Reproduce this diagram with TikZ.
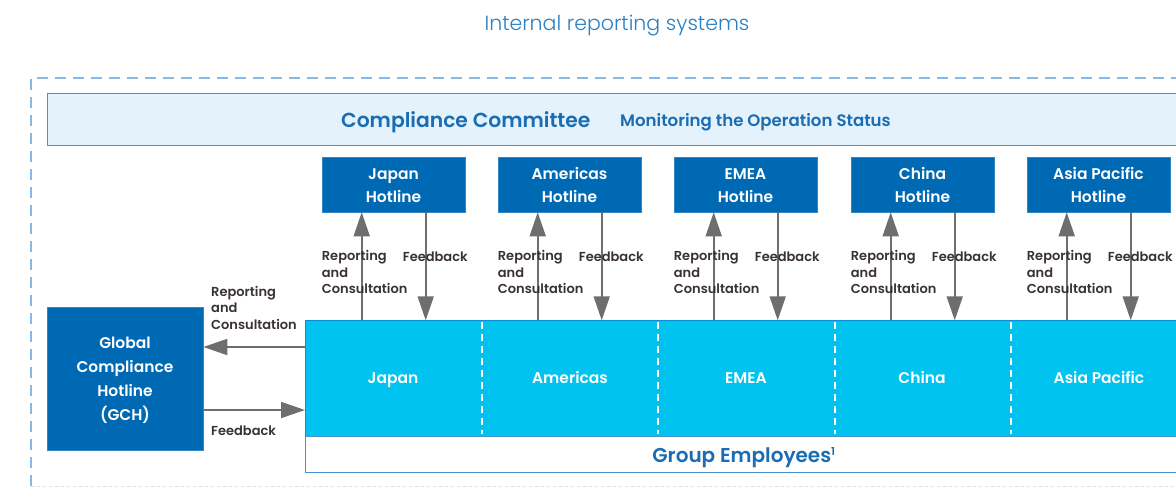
\documentclass[tikz,border=0pt]{standalone}
\usepackage{fontspec}
\setmainfont{Poppins}[BoldFont={Poppins SemiBold}]
\newfontfamily\lightfont{Poppins Light}
\usetikzlibrary{arrows.meta,calc}
\definecolor{titleblue}{HTML}{2A80C2}
\definecolor{ccfill}{HTML}{E4F2FB}
\definecolor{ccborder}{HTML}{4A92CE}
\definecolor{cctext}{HTML}{1A6DB3}
\definecolor{hotblue}{HTML}{0069B4}
\definecolor{regcyan}{HTML}{00C3EF}
\definecolor{regborder}{HTML}{0A8FD0}
\definecolor{lbltext}{HTML}{3A3232}
\definecolor{arrgray}{HTML}{6E6E6E}
\definecolor{dashblue}{HTML}{86B9E3}
\newcommand{\sline}[1]{\vrule height 15pt depth 2pt width 0pt#1}
\newcommand{\gline}[1]{\vrule height 15.5pt depth 3.7pt width 0pt#1}
\tikzset{
  hotbox/.style={fill=hotblue, draw=hotblue!80!white, line width=0.6pt, text=white, font=\bfseries\fontsize{15.5}{23}\selectfont, align=center, minimum width=143pt, minimum height=55pt, inner sep=0pt},
  regtext/.style={text=white, font=\bfseries\fontsize{15.5}{19}\selectfont, text height=12pt, text depth=1pt},
  lbl/.style={text=lbltext, font=\bfseries\fontsize{13}{16.5}\selectfont, align=left, inner sep=0pt, anchor=north west},
  arr/.style={draw=arrgray, line width=1.8pt, -{Triangle[length=24pt,width=16pt]}},
  divider/.style={draw=white, line width=1.4pt, dash pattern=on 7pt off 5pt},
}
\begin{document}
\begin{tikzpicture}[x=1pt,y=-1pt]
\useasboundingbox (0,0) rectangle (1176,487);
\clip (0,0) rectangle (1176,487);
% title
\node[text=titleblue, font=\lightfont\fontsize{20.5}{24}\selectfont, text height=15.5pt, text depth=1pt] (title) at (617,23) {Internal reporting systems};
% outer dashed frame
\draw[dashblue, line width=1.6pt, dash pattern=on 11pt off 7pt] (31,486) -- (31,78) -- (1200,78);
\draw[dashblue!40, line width=0.8pt, dash pattern=on 3pt off 3pt] (31,486) -- (1200,486);
% compliance committee
\node[fill=ccfill, draw=ccborder, line width=1.4pt, minimum width=1160pt, minimum height=52pt, anchor=north west, inner sep=0pt] (cc) at (47,93) {};
\node[text=cctext, font=\bfseries\fontsize{20.3}{22}\selectfont, anchor=west, inner sep=0pt, text height=15pt, text depth=1pt] (cct) at (341,120) {Compliance Committee};
\node[text=cctext, font=\bfseries\fontsize{16.6}{18}\selectfont, anchor=west, inner sep=0pt, text height=12.5pt, text depth=1pt] (ccm) at (620,121) {Monitoring the Operation Status};
% hotlines
\node[hotbox] (hJ) at (393.5,184.5) {\sline{Japan}\\\sline{Hotline}};
\node[hotbox] (hA) at (569.5,184.5) {\sline{Americas}\\\sline{Hotline}};
\node[hotbox] (hE) at (745.5,184.5) {\sline{EMEA}\\\sline{Hotline}};
\node[hotbox] (hC) at (922.5,184.5) {\sline{China}\\\sline{Hotline}};
\node[hotbox] (hP) at (1098.5,184.5) {\sline{Asia Pacific}\\\sline{Hotline}};
% regions
\node[fill=regcyan, draw=regborder, line width=1pt, minimum width=900pt, minimum height=116pt, anchor=north west, inner sep=0pt] (reg) at (305,320) {};
\node[fill=white, draw=ccborder, line width=1.4pt, minimum width=900pt, minimum height=36pt, anchor=north west, inner sep=0pt] (ge) at (305,436) {};
\foreach \xx in {482,658,835,1011} {
  \draw[divider] (\xx,322) -- (\xx,434);
}
\node[regtext] (rJ) at (393,378) {Japan};
\node[regtext] (rA) at (570,378) {Americas};
\node[regtext] (rE) at (746,378) {EMEA};
\node[regtext] (rC) at (922,378) {China};
\node[regtext] (rP) at (1099,378) {Asia Pacific};
\node[text=cctext, font=\bfseries\fontsize{20}{22}\selectfont, text height=15pt, text depth=1.5pt] (get) at (744,456) {Group Employees\textsuperscript{\fontsize{11}{12}\selectfont 1}};
% GCH
\node[fill=hotblue, draw=hotblue!80!white, line width=0.6pt, text=white, font=\bfseries\fontsize{15.5}{24}\selectfont, align=center, minimum width=156pt, minimum height=143pt, inner sep=0pt] (gch) at (125,378.5) {\gline{Global}\\\gline{Compliance}\\\gline{Hotline}\\\gline{(GCH)}};
% GCH arrows
\draw[arr] (reg.west |- 0,347) -- (gch.east |- 0,347);
\draw[arr] (gch.east |- 0,410) -- (reg.west |- 0,410);
\node[lbl] (lg1) at (211,286) {Reporting\\and\\Consultation};
\node[lbl] (lg2) at (211,426) {Feedback};
% hotline arrows and labels
\foreach \h in {hJ,hA,hE,hC,hP} {
  \draw[arr] ($(\h.south west)+(40,108)$) -- ($(\h.south west)+(40,0)$);
  \draw[arr] ($(\h.south west)+(104,0)$) -- ($(\h.south west)+(104,108)$);
  \node[lbl] at ($(\h.south west)+(0,38)$) {Reporting\\and\\Consultation};
  \node[lbl] at ($(\h.south west)+(81,39)$) {Feedback};
}
\end{tikzpicture}
\end{document}
